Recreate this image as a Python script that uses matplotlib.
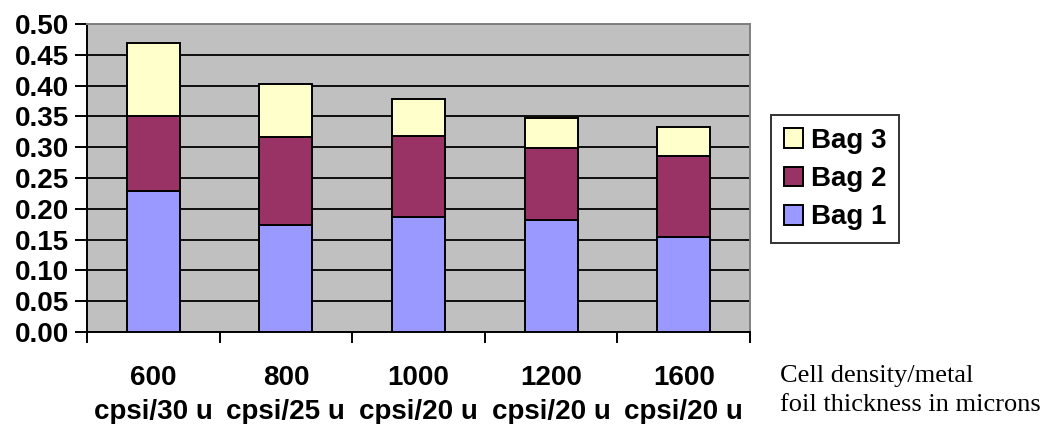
import matplotlib as mpl
import matplotlib.pyplot as plt
import numpy as np
from matplotlib.patches import Patch
from matplotlib.ticker import FixedLocator, FormatStrFormatter, MultipleLocator

mpl.rcParams.update(
    {
        "font.family": ["Liberation Sans", "DejaVu Sans"],
        "font.weight": "bold",
        "font.size": 20,
    }
)

categories = ["600\ncpsi/30 u", "800\ncpsi/25 u", "1000\ncpsi/20 u", "1200\ncpsi/20 u", "1600\ncpsi/20 u"]
bag1 = [0.229, 0.173, 0.187, 0.182, 0.154]
bag2 = [0.121, 0.143, 0.131, 0.116, 0.131]
bag3 = [0.119, 0.087, 0.060, 0.049, 0.048]
series_names = ["Bag 1", "Bag 2", "Bag 3"]
series_colors = ["#9999FF", "#993366", "#FFFFCC"]

fig = plt.figure(figsize=(10.44, 4.24), dpi=100)
ax = fig.add_axes([87 / 1044, 1 - 332 / 424, (750 - 87) / 1044, (332 - 24) / 424])
ax.set_facecolor("#C0C0C0")

x = np.arange(len(categories))
bottom = np.zeros(len(categories))
for vals, name, col in zip([bag1, bag2, bag3], series_names, series_colors):
    ax.bar(x, vals, width=0.4, bottom=bottom, color=col, edgecolor="black",
           linewidth=1.4, label=name, zorder=3)
    bottom = bottom + np.array(vals)

ax.set_xlim(-0.5, len(categories) - 0.5)
ax.set_ylim(0, 0.5)
ax.yaxis.set_major_locator(MultipleLocator(0.05))
ax.yaxis.set_major_formatter(FormatStrFormatter("%.2f"))
ax.grid(axis="y", color="black", linewidth=1.3, zorder=1)
ax.set_axisbelow(True)

# boundaries get the tick marks, centres carry the labels
ax.xaxis.set_major_locator(FixedLocator(np.arange(len(categories) + 1) - 0.5))
ax.xaxis.set_minor_locator(FixedLocator(x))
ax.set_xticklabels([], minor=False)
ax.set_xticklabels(categories, minor=True, linespacing=1.4)
ax.tick_params(axis="x", which="major", direction="out", length=8, width=1.4)
ax.tick_params(axis="x", which="minor", length=0, pad=24)
ax.tick_params(axis="y", direction="out", length=9, width=1.4, pad=4)

for side in ["left", "bottom"]:
    ax.spines[side].set_color("black")
    ax.spines[side].set_linewidth(1.4)
for side in ["top", "right"]:
    ax.spines[side].set_color("#808080")
    ax.spines[side].set_linewidth(1.4)

handles = [Patch(facecolor=c, edgecolor="black", linewidth=1.4) for c in series_colors]
leg = fig.legend(handles[::-1], series_names[::-1], loc="upper left",
                 bbox_to_anchor=(771 / 1044, 1 - 115 / 424), frameon=True, fancybox=False,
                 edgecolor="black", handlelength=0.7, handleheight=0.7, handletextpad=0.3,
                 labelspacing=0.45, borderpad=0.45, borderaxespad=0)
leg.get_frame().set_linewidth(1.4)

fig.text(780 / 1044, 1 - 365 / 424, "Cell density/metal\nfoil thickness in microns",
         family=["Liberation Serif", "DejaVu Serif"], weight="normal", fontsize=19,
         ha="left", va="top", linespacing=1.4)

fig.savefig("out.png", dpi=100)
